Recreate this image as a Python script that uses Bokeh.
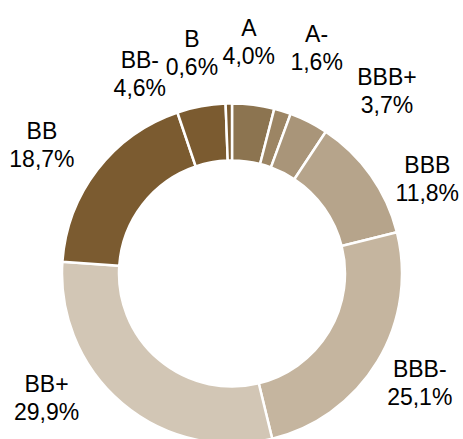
import math
from bokeh.plotting import figure
from bokeh.models import Range1d, ColumnDataSource
from bokeh.core.properties import value
from bokeh.embed import file_html
from bokeh.resources import INLINE

# ---- data ----
ratings = ["A", "A-", "BBB+", "BBB", "BBB-", "BB+", "BB", "BB-", "B"]
shares = [4.0, 1.6, 3.7, 11.8, 25.1, 29.9, 18.7, 4.6, 0.6]
share_labels = ["4,0%", "1,6%", "3,7%", "11,8%", "25,1%", "29,9%", "18,7%", "4,6%", "0,6%"]
colors = ["#8C7450", "#9C8564", "#A99579", "#B6A48B", "#C5B59F",
          "#D2C6B5", "#7B5B30", "#7B5B30", "#7B5B30"]

# label layout (angle shift from wedge middle in degrees, distance from centre in px)
label_shift_deg = [-3.1, 3.1, 13.2, 8.9, -1.5, 16.5, -3.0, -14.1, -9.1]
label_dist = [235, 243, 241, 218, 216, 222, 231, 222, 227]

W, H = 463, 439
cx, cy = 231.5, 166.0
R_out, R_in = 170, 113

total = sum(shares)
starts, ends, mids = [], [], []
cum = 0.0
for s in shares:
    a0 = cum / total * 2 * math.pi
    cum += s
    a1 = cum / total * 2 * math.pi
    starts.append(math.pi / 2 - a0)
    ends.append(math.pi / 2 - a1)
    mids.append((a0 + a1) / 2)

src = ColumnDataSource(dict(start=starts, end=ends, color=colors,
                            x=[cx] * len(shares), y=[cy] * len(shares)))

p = figure(width=W, height=H, output_backend="svg", toolbar_location=None,
           x_range=Range1d(0, W), y_range=Range1d(0, H), min_border=0)
p.axis.visible = False
p.grid.visible = False
p.outline_line_color = None
p.background_fill_color = "white"

p.annular_wedge(x="x", y="y", inner_radius=R_in, outer_radius=R_out,
                start_angle="start", end_angle="end", direction="clock",
                fill_color="color", line_color="white", line_width=2.5, source=src)

lx1, ly1, lx2, ly2 = [], [], [], []
for m, sh, d in zip(mids, label_shift_deg, label_dist):
    a = m + math.radians(sh)
    xc = cx + d * math.sin(a)
    yc = cy + d * math.cos(a) + 5
    lx1.append(xc); ly1.append(yc + 6.5)
    lx2.append(xc); ly2.append(yc - 21.5)

p.text(x=lx1, y=ly1, text=ratings, text_align="center", text_baseline="alphabetic",
       text_font=value("Liberation Sans"), text_font_size="23px", text_color="#000000")
p.text(x=lx2, y=ly2, text=share_labels, text_align="center", text_baseline="alphabetic",
       text_font=value("Liberation Sans"), text_font_size="23px", text_color="#000000")

open("out.html", "w").write(file_html(p, INLINE))
